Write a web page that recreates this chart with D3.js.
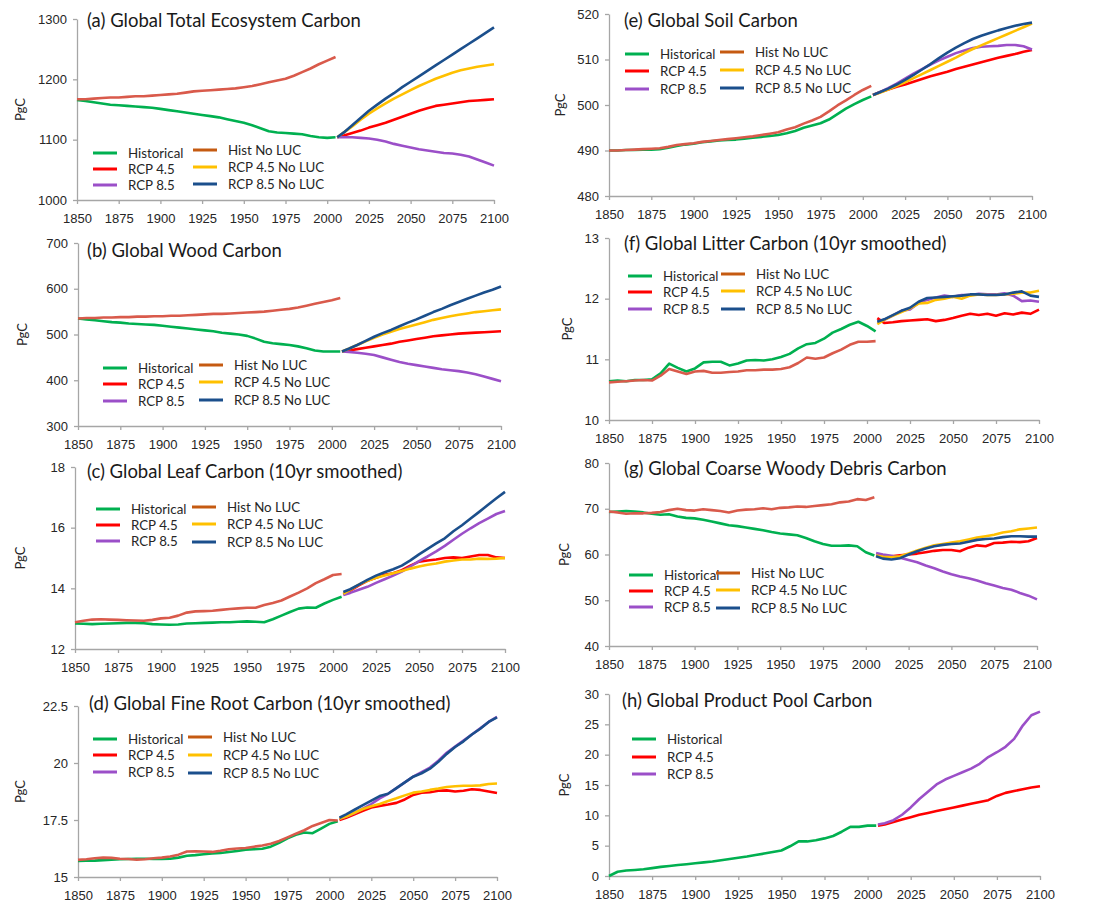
<!DOCTYPE html>
<html>
<head>
<meta charset="utf-8">
<script src="https://cdn.jsdelivr.net/npm/d3@7"></script>
<style>
  body { margin: 0; background: #fff; }
  svg { display: block; font-family: Lato, "Open Sans", sans-serif; }
</style>
</head>
<body>
<svg id="chart" width="1093" height="902"></svg>
<script>
// ---- shared x categories ----
const histYears = [1850,1855,1860,1865,1870,1875,1880,1885,1890,1895,1900,1905,1910,1915,1920,1925,
                   1930,1935,1940,1945,1950,1955,1960,1965,1970,1975,1980,1985,1990,1995,2000,2005];
const rcpYears = [2006,2010,2015,2020,2025,2030,2035,2040,2045,2050,2055,2060,2065,2070,2075,2080,2085,2090,2095,2100];
const xTicks = [1850,1875,1900,1925,1950,1975,2000,2025,2050,2075,2100];

// ---- (a) total ecosystem carbon, PgC ----
const totalTicks = [1000,1100,1200,1300];
const totalHist = [1166,1164,1162,1160,1158,1157,1156,1155,1154,1153,1151,1149,1147,1145,1143,1141,
                   1139,1137,1134,1131,1128,1124,1119,1114,1112,1111,1110,1109,1106,1104,1103,1104];
const totalHistNoLUC = [1167,1167,1168,1169,1170,1170,1171,1172,1172,1173,1174,1175,1176,1178,1180,1181,
                        1182,1183,1184,1185,1187,1189,1192,1195,1198,1201,1206,1212,1218,1225,1231,1237];
const totalRcp45 = [1104,1107,1111,1115,1120,1124,1128,1133,1138,1143,1148,1152,1156,1158,1160,1162,1164,1165,1166,1167];
const totalRcp85 = [1104,1104,1104,1103,1102,1100,1097,1093,1090,1087,1084,1082,1080,1078,1077,1075,1072,1067,1062,1057];
const totalRcp45NoLUC = [1104,1112,1122,1133,1143,1152,1160,1168,1175,1182,1189,1195,1201,1206,1211,1215,1218,1221,1223,1225];
const totalRcp85NoLUC = [1104,1112,1124,1136,1148,1158,1168,1177,1187,1196,1205,1214,1223,1232,1241,1250,1259,1268,1277,1286];

// ---- (b) wood carbon ----
const woodTicks = [300,400,500,600,700];
const woodHist = [535,533,531,529,527,526,524,523,522,521,519,517,515,513,511,509,
                  507,504,502,500,497,491,484,481,479,477,474,470,465,463,463,463];
const woodHistNoLUC = [535,536,536,537,537,538,538,539,539,540,540,541,541,542,543,544,
                       545,545,546,547,548,549,550,552,554,556,559,563,567,571,575,580];
const woodRcp45 = [463,465,468,471,474,477,480,484,487,490,493,496,498,500,502,503,504,505,506,507];
const woodRcp85 = [463,462,460,458,455,450,445,440,436,433,430,427,424,422,420,417,413,408,403,398];
const woodRcp45NoLUC = [463,469,477,485,493,500,506,512,517,522,527,532,536,540,543,546,549,551,553,555];
const woodRcp85NoLUC = [463,469,477,486,495,503,510,518,526,533,541,549,556,564,571,578,585,592,598,605];

// ---- (c) leaf carbon (10yr smoothed) ----
const leafTicks = [12,14,16,18];
const leafHist = [12.84,12.83,12.82,12.83,12.84,12.85,12.86,12.86,12.85,12.82,12.81,12.80,12.81,12.84,12.85,12.86,
                  12.87,12.88,12.88,12.90,12.91,12.90,12.88,12.98,13.10,13.22,13.33,13.37,13.36,13.50,13.62,13.72];
const leafHistNoLUC = [12.88,12.93,12.97,12.98,12.97,12.96,12.95,12.94,12.93,12.96,13.01,13.03,13.10,13.20,13.24,13.25,
                       13.26,13.29,13.32,13.34,13.36,13.36,13.45,13.52,13.60,13.73,13.86,14.00,14.17,14.30,14.44,14.47];
const leafRcp45 = [13.80,13.92,14.10,14.25,14.35,14.45,14.50,14.60,14.75,14.88,14.92,14.95,15.00,15.02,15.00,15.05,15.10,15.10,15.02,15.00];
const leafRcp85 = [13.78,13.85,13.95,14.05,14.18,14.30,14.42,14.55,14.72,14.90,15.05,15.22,15.40,15.60,15.80,15.98,16.15,16.30,16.45,16.55];
const leafRcp45NoLUC = [13.82,13.95,14.12,14.25,14.35,14.42,14.50,14.57,14.65,14.72,14.78,14.82,14.88,14.92,14.95,14.95,14.98,14.97,14.98,15.00];
const leafRcp85NoLUC = [13.88,13.97,14.12,14.28,14.42,14.53,14.63,14.75,14.92,15.12,15.30,15.48,15.65,15.88,16.08,16.30,16.52,16.75,16.97,17.18];

// ---- (d) fine root carbon (10yr smoothed) ----
const rootTicks = [15,17.5,20,22.5];
const rootHist = [15.70,15.71,15.72,15.74,15.76,15.78,15.79,15.80,15.80,15.79,15.79,15.80,15.85,15.93,15.96,16.00,
                  16.03,16.05,16.10,16.14,16.20,16.22,16.24,16.33,16.50,16.70,16.85,16.95,16.92,17.12,17.33,17.45];
const rootHistNoLUC = [15.75,15.78,15.82,15.85,15.84,15.80,15.79,15.76,15.78,15.82,15.85,15.90,15.98,16.12,16.13,16.12,
                       16.10,16.15,16.22,16.25,16.27,16.33,16.38,16.46,16.58,16.74,16.90,17.05,17.24,17.37,17.50,17.48];
const rootRcp45 = [17.50,17.60,17.75,17.90,18.05,18.12,18.18,18.25,18.40,18.60,18.70,18.72,18.78,18.80,18.75,18.78,18.85,18.82,18.75,18.68];
const rootRcp85 = [17.55,17.65,17.80,18.00,18.20,18.45,18.65,18.90,19.15,19.40,19.60,19.80,20.10,20.45,20.72,20.98,21.25,21.52,21.80,22.02];
const rootRcp45NoLUC = [17.55,17.65,17.82,17.98,18.10,18.20,18.33,18.45,18.58,18.70,18.75,18.82,18.88,18.95,18.98,19.00,19.00,19.02,19.08,19.10];
const rootRcp85NoLUC = [17.60,17.75,17.95,18.15,18.35,18.55,18.65,18.90,19.15,19.40,19.55,19.75,20.05,20.40,20.70,20.95,21.25,21.50,21.80,22.00];

// ---- (e) soil carbon ----
const soilTicks = [480,490,500,510,520];
const soilHist = [490.0,490.0,490.1,490.1,490.2,490.2,490.3,490.6,491.0,491.3,491.5,491.8,492.0,492.2,492.3,492.4,
                  492.6,492.8,493.0,493.2,493.4,493.8,494.3,495.0,495.5,496.0,496.8,498.0,499.2,500.2,501.1,501.9];
const soilHistNoLUC = [490.0,490.0,490.1,490.2,490.3,490.4,490.5,490.8,491.2,491.4,491.6,491.9,492.1,492.3,492.5,492.7,
                       492.9,493.1,493.4,493.7,494.0,494.6,495.1,495.9,496.6,497.4,498.6,499.9,501.0,502.2,503.3,504.2];
const soilRcp45 = [502.2,502.8,503.4,504.0,504.5,505.1,505.7,506.3,506.8,507.3,507.9,508.4,508.9,509.4,509.9,510.4,510.8,511.2,511.7,512.1];
const soilRcp85 = [502.2,502.8,503.7,504.7,505.8,506.9,507.9,508.9,509.8,510.6,511.4,512.0,512.5,512.8,512.9,513.0,513.2,513.2,512.9,512.2];
const soilRcp45NoLUC = [502.2,502.7,503.4,504.2,505.0,505.9,506.8,507.7,508.6,509.5,510.4,511.4,512.3,513.1,513.9,514.7,515.5,516.3,517.1,517.9];
const soilRcp85NoLUC = [502.2,502.8,503.6,504.5,505.5,506.6,507.8,509.0,510.3,511.5,512.6,513.6,514.5,515.2,515.8,516.4,516.9,517.4,517.8,518.1];

// ---- (f) litter carbon (10yr smoothed) ----
const litterTicks = [10,11,12,13];
const litterHist = [10.64,10.65,10.64,10.66,10.66,10.67,10.77,10.93,10.86,10.80,10.85,10.95,10.96,10.96,10.90,10.93,
                    10.98,10.99,10.98,11.00,11.04,11.09,11.18,11.25,11.27,11.34,11.44,11.50,11.57,11.62,11.55,11.46];
const litterHistNoLUC = [10.62,10.63,10.64,10.65,10.66,10.65,10.73,10.84,10.80,10.76,10.80,10.81,10.78,10.78,10.79,10.80,
                         10.82,10.82,10.83,10.83,10.84,10.87,10.94,11.03,11.01,11.03,11.10,11.16,11.24,11.29,11.29,11.30];
const litterRcp45 = [11.68,11.60,11.61,11.63,11.64,11.65,11.66,11.63,11.65,11.68,11.72,11.75,11.73,11.75,11.72,11.76,11.74,11.77,11.75,11.82];
const litterRcp85 = [11.62,11.65,11.72,11.80,11.82,11.93,11.98,12.02,12.05,12.03,12.06,12.06,12.08,12.07,12.07,12.09,12.05,11.96,11.97,11.95];
const litterRcp45NoLUC = [11.58,11.65,11.72,11.78,11.84,11.92,11.93,11.98,12.00,12.03,12.00,12.05,12.07,12.06,12.06,12.07,12.08,12.10,12.10,12.13];
const litterRcp85NoLUC = [11.62,11.66,11.73,11.80,11.85,11.95,12.01,12.02,12.03,12.04,12.05,12.07,12.07,12.06,12.06,12.07,12.10,12.12,12.05,12.03];

// ---- (g) coarse woody debris carbon ----
const cwdTicks = [40,50,60,70,80];
const cwdHist = [69.3,69.4,69.5,69.4,69.2,68.9,68.7,68.8,68.3,68.0,67.9,67.6,67.2,66.8,66.4,66.2,
                 65.9,65.6,65.3,64.9,64.6,64.4,64.2,63.6,62.9,62.3,61.9,61.9,62.0,61.8,60.5,59.8];
const cwdHistNoLUC = [69.4,69.2,68.9,69.0,69.0,69.1,69.3,69.7,70.0,69.7,69.6,69.9,69.7,69.5,69.2,69.6,
                      69.8,69.9,70.1,69.9,70.2,70.3,70.5,70.4,70.6,70.8,71.0,71.4,71.6,72.1,71.9,72.5];
const cwdRcp45 = [59.8,59.5,59.6,59.8,60.0,60.2,60.5,60.8,61.0,61.0,60.7,61.5,62.0,61.8,62.5,62.6,62.8,62.7,62.9,63.6];
const cwdRcp85 = [60.3,60.0,59.7,59.3,58.8,58.3,57.6,57.0,56.3,55.7,55.2,54.8,54.3,53.7,53.2,52.7,52.3,51.6,51.0,50.2];
const cwdRcp45NoLUC = [59.8,59.5,59.4,59.6,60.2,60.9,61.5,62.0,62.3,62.6,62.9,63.3,63.7,64.0,64.3,64.8,65.1,65.5,65.7,65.9];
const cwdRcp85NoLUC = [59.6,59.1,58.9,59.2,60.0,60.7,61.3,61.8,62.1,62.3,62.4,62.8,63.2,63.4,63.5,63.8,64.0,64.0,63.9,63.9];

// ---- (h) product pool carbon ----
const productTicks = [0,5,10,15,20,25,30];
const productHist = [0.0,0.7,0.9,1.0,1.1,1.3,1.5,1.65,1.8,1.95,2.1,2.25,2.4,2.6,2.8,3.0,
                     3.2,3.45,3.7,3.95,4.2,4.9,5.7,5.7,5.9,6.2,6.6,7.3,8.1,8.1,8.3,8.3];
const productRcp45 = [8.3,8.5,8.9,9.3,9.7,10.1,10.4,10.7,11.0,11.3,11.6,11.9,12.2,12.5,13.2,13.7,14.0,14.3,14.6,14.8];
const productRcp85 = [8.5,8.7,9.2,10.1,11.3,12.7,13.9,15.1,15.9,16.5,17.1,17.7,18.5,19.6,20.4,21.3,22.6,24.8,26.5,27.1];

// ---- series styles ----
const seriesStyle = {
  hist:       { name: "Historical",     color: "#00b050", legend: "#00b050" },
  histNoLUC:  { name: "Hist No LUC",    color: "#d95a4b", legend: "#c55a11" },
  rcp45:      { name: "RCP 4.5",        color: "#ff0000", legend: "#ff0000" },
  rcp85:      { name: "RCP 8.5",        color: "#9b4fc8", legend: "#9b4fc8" },
  rcp45NoLUC: { name: "RCP 4.5 No LUC", color: "#ffc000", legend: "#ffc000" },
  rcp85NoLUC: { name: "RCP 8.5 No LUC", color: "#1b4f8c", legend: "#1b4f8c" }
};
const drawOrder = ["hist","histNoLUC","rcp45","rcp85","rcp45NoLUC","rcp85NoLUC"];
const legendCol1 = ["hist","rcp45","rcp85"];
const legendCol2 = ["histNoLUC","rcp45NoLUC","rcp85NoLUC"];

// ---- panels ----
const panels = [
  { key: "a", title: "(a) Global Total Ecosystem Carbon", domain: [1000,1300], ticks: totalTicks,
    data: { hist: totalHist, histNoLUC: totalHistNoLUC, rcp45: totalRcp45, rcp85: totalRcp85, rcp45NoLUC: totalRcp45NoLUC, rcp85NoLUC: totalRcp85NoLUC } },
  { key: "b", title: "(b) Global Wood Carbon", domain: [300,700], ticks: woodTicks,
    data: { hist: woodHist, histNoLUC: woodHistNoLUC, rcp45: woodRcp45, rcp85: woodRcp85, rcp45NoLUC: woodRcp45NoLUC, rcp85NoLUC: woodRcp85NoLUC } },
  { key: "c", title: "(c) Global Leaf Carbon (10yr smoothed)", domain: [12,18], ticks: leafTicks,
    data: { hist: leafHist, histNoLUC: leafHistNoLUC, rcp45: leafRcp45, rcp85: leafRcp85, rcp45NoLUC: leafRcp45NoLUC, rcp85NoLUC: leafRcp85NoLUC } },
  { key: "d", title: "(d) Global Fine Root Carbon (10yr smoothed)", domain: [15,22.5], ticks: rootTicks,
    data: { hist: rootHist, histNoLUC: rootHistNoLUC, rcp45: rootRcp45, rcp85: rootRcp85, rcp45NoLUC: rootRcp45NoLUC, rcp85NoLUC: rootRcp85NoLUC } },
  { key: "e", title: "(e) Global Soil Carbon", domain: [480,520], ticks: soilTicks,
    data: { hist: soilHist, histNoLUC: soilHistNoLUC, rcp45: soilRcp45, rcp85: soilRcp85, rcp45NoLUC: soilRcp45NoLUC, rcp85NoLUC: soilRcp85NoLUC } },
  { key: "f", title: "(f) Global Litter Carbon (10yr smoothed)", domain: [10,13], ticks: litterTicks,
    data: { hist: litterHist, histNoLUC: litterHistNoLUC, rcp45: litterRcp45, rcp85: litterRcp85, rcp45NoLUC: litterRcp45NoLUC, rcp85NoLUC: litterRcp85NoLUC } },
  { key: "g", title: "(g) Global Coarse Woody Debris Carbon", domain: [40,80], ticks: cwdTicks,
    data: { hist: cwdHist, histNoLUC: cwdHistNoLUC, rcp45: cwdRcp45, rcp85: cwdRcp85, rcp45NoLUC: cwdRcp45NoLUC, rcp85NoLUC: cwdRcp85NoLUC } },
  { key: "h", title: "(h) Global Product Pool Carbon", domain: [0,30], ticks: productTicks,
    data: { hist: productHist, rcp45: productRcp45, rcp85: productRcp85 } }
];

// plot frames, title anchors and legend anchors for each panel (pixels)
const layout = {
  a: { left: 77,  right: 494,  top: 19,  bottom: 200, labelX: 20,  titleX: 87,  titleY: 27,
       lx: [93, 193],  ly1: [153,169,185], ly2: [150,167,184] },
  b: { left: 78,  right: 501,  top: 243, bottom: 426, labelX: 22,  titleX: 87,  titleY: 257,
       lx: [103, 199], ly1: [368,384,401], ly2: [365,382,400] },
  c: { left: 75,  right: 505,  top: 467, bottom: 649, labelX: 20,  titleX: 87,  titleY: 478,
       lx: [96, 192],  ly1: [509,525,541], ly2: [507,524,542] },
  d: { left: 78,  right: 497,  top: 706, bottom: 877, labelX: 20,  titleX: 89,  titleY: 710,
       lx: [93, 188],  ly1: [739,755,772], ly2: [737,755,773] },
  e: { left: 609, right: 1032, top: 14,  bottom: 196, labelX: 560, titleX: 624, titleY: 27,
       lx: [625, 720], ly1: [54,71,89],    ly2: [52,70,88] },
  f: { left: 609, right: 1039, top: 238, bottom: 420, labelX: 567, titleX: 624, titleY: 250,
       lx: [628, 721], ly1: [276,292,309], ly2: [274,291,309] },
  g: { left: 609, right: 1037, top: 463, bottom: 646, labelX: 564, titleX: 624, titleY: 475,
       lx: [629, 716], ly1: [575,591,607], ly2: [573,590,608] },
  h: { left: 609, right: 1040, top: 694, bottom: 876, labelX: 564, titleX: 622, titleY: 707,
       lx: [632, 0],   ly1: [739,757,774], ly2: [] }
};

const svg = d3.select("#chart");
const axisColor = "#a6a6a6";
const textColor = "#262626";

panels.forEach(p => {
  const L = layout[p.key];
  const x = d3.scaleLinear().domain([1850, 2100]).range([L.left, L.right]);
  const y = d3.scaleLinear().domain(p.domain).range([L.bottom, L.top]);
  const g = svg.append("g").attr("class", "panel-" + p.key);

  // axes
  const xAxis = g.append("g")
    .attr("transform", `translate(0,${L.bottom})`)
    .call(d3.axisBottom(x).tickValues(xTicks).tickFormat(d3.format("d")).tickSize(4).tickSizeOuter(0).tickPadding(10));
  const yAxis = g.append("g")
    .attr("transform", `translate(${L.left},0)`)
    .call(d3.axisLeft(y).tickValues(p.ticks).tickFormat(d => String(d)).tickSize(4).tickSizeOuter(0).tickPadding(6));
  [xAxis, yAxis].forEach(a => {
    a.select(".domain").attr("stroke", axisColor).attr("stroke-width", 1.3);
    a.selectAll(".tick line").attr("stroke", axisColor).attr("stroke-width", 1.3);
    a.selectAll(".tick text").attr("fill", textColor).style("font-size", "13px");
  });

  // y-axis label
  g.append("text")
    .attr("transform", `translate(${L.labelX},${(L.top + L.bottom) / 2}) rotate(-90)`)
    .attr("text-anchor", "middle").attr("dy", "0.35em")
    .attr("fill", textColor).style("font-size", "13px")
    .text("PgC");

  // title
  g.append("text")
    .attr("x", L.titleX).attr("y", L.titleY)
    .attr("fill", "#1a1a1a").style("font-size", "18.5px")
    .text(p.title);

  // series lines
  const line = d3.line().x(d => x(d[0])).y(d => y(d[1]));
  drawOrder.forEach(k => {
    const vals = p.data[k];
    if (!vals) return;
    const years = (k === "hist" || k === "histNoLUC") ? histYears : rcpYears;
    g.append("path")
      .datum(years.map((yr, i) => [yr, vals[i]]))
      .attr("d", line)
      .attr("fill", "none")
      .attr("stroke", seriesStyle[k].color)
      .attr("stroke-width", 2.6)
      .attr("stroke-linejoin", "round");
  });

  // legend
  const cols = [legendCol1, legendCol2];
  const rows = [L.ly1, L.ly2];
  cols.forEach((keys, ci) => {
    keys.forEach((k, ri) => {
      if (!p.data[k]) return;
      const ly = rows[ci][ri];
      const lx = L.lx[ci];
      g.append("line")
        .attr("x1", lx).attr("x2", lx + 24).attr("y1", ly).attr("y2", ly)
        .attr("stroke", seriesStyle[k].legend).attr("stroke-width", 3);
      g.append("text")
        .attr("x", lx + 35).attr("y", ly).attr("dy", "0.36em")
        .attr("fill", textColor).style("font-size", "13.3px")
        .text(seriesStyle[k].name);
    });
  });
});
</script>
</body>
</html>
